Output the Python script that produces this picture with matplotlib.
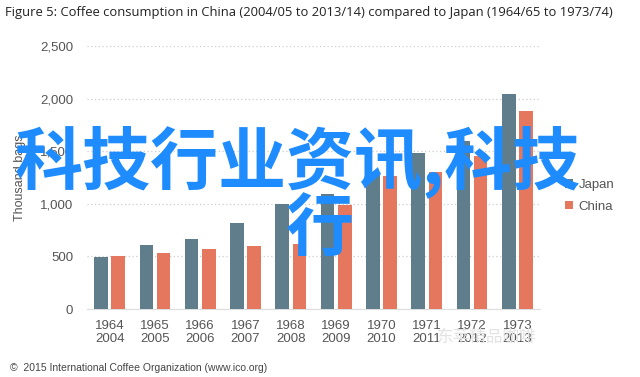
import numpy as np
import matplotlib
matplotlib.use("Agg")
import matplotlib.pyplot as plt

plt.rcParams['font.family'] = ['Liberation Sans', 'DejaVu Sans']

japan_years = ['1964', '1965', '1966', '1967', '1968', '1969', '1970', '1971', '1972', '1973']
china_years = ['2004', '2005', '2006', '2007', '2008', '2009', '2010', '2011', '2012', '2013']
japan = [490, 610, 668, 815, 995, 1090, 1290, 1480, 1600, 2040]
china = [505, 535, 567, 600, 615, 990, 1265, 1300, 1450, 1880]

japan_color = '#607D8B'
china_color = '#E5775F'

fig = plt.figure(figsize=(6.4, 3.77), dpi=100)
ax = fig.add_axes([87 / 640, 1 - 309 / 377, 453 / 640, 263 / 377])

x = np.arange(len(japan))
w = 0.3
ax.bar(x - 0.19, japan, w, color=japan_color, label='Japan', zorder=3)
ax.bar(x + 0.19, china, w, color=china_color, label='China', zorder=3)

ax.set_xlim(-0.5, len(japan) - 0.5)
ax.set_ylim(0, 2500)
ax.set_yticks([0, 500, 1000, 1500, 2000, 2500])
ax.set_yticklabels(['0', '500', '1,000', '1,500', '2,000', '2,500'])
ax.set_xticks(x)
ax.set_xticklabels([a + '\n' + b for a, b in zip(japan_years, china_years)],
                   linespacing=1.1)
ax.tick_params(length=0, labelsize=9.5, labelcolor='#555555', pad=8)
ax.tick_params(axis='y', pad=10)

for s in ['top', 'right', 'left']:
    ax.spines[s].set_visible(False)
ax.spines['bottom'].set_color('#dddddd')
ax.yaxis.grid(True, linestyle=(0, (1, 2)), color='#cccccc', linewidth=0.9, zorder=0)
ax.set_axisbelow(True)

ax.set_ylabel('Thousand bags', fontsize=9, color='#555555', labelpad=10)

leg = ax.legend(loc='center left', bbox_to_anchor=(1.03, 0.43), frameon=False,
                fontsize=9.5, handlelength=0.6, handleheight=0.6,
                handletextpad=0.4, labelspacing=0.7)
for t in leg.get_texts():
    t.set_color('#555555')

fig.text(0.008, 0.968, 'Figure 5: Coffee consumption in China (2004/05 to 2013/14) compared to Japan (1964/65 to 1973/74)',
         fontsize=9.4, family=['Open Sans', 'DejaVu Sans'],
         va='center', ha='left', color='#222222')
fig.text(0.015, 0.025, '\u00a9  2015 International Coffee Organization (www.ico.org)',
         fontsize=7.5, va='center', ha='left', color='#444444')

# faint watermark near bottom right
fig.text(0.76, 0.105, '东苹精品咖啡', fontsize=12, color='#e2e2e2',
         family=['Noto Sans CJK SC', 'DejaVu Sans'], ha='center', va='center')

# big blue overlay text
fig.text(298 / 640, 1 - 162 / 377, '科技行业资讯,科技', fontsize=49, color='#1E8CFF',
         fontweight='bold', family=['Noto Sans CJK SC', 'DejaVu Sans'],
         ha='center', va='center')
fig.text(0.5, 1 - 230 / 377, '行', fontsize=49, color='#1E8CFF',
         fontweight='bold', family=['Noto Sans CJK SC', 'DejaVu Sans'],
         ha='center', va='center')

fig.savefig('out.png', dpi=100)
